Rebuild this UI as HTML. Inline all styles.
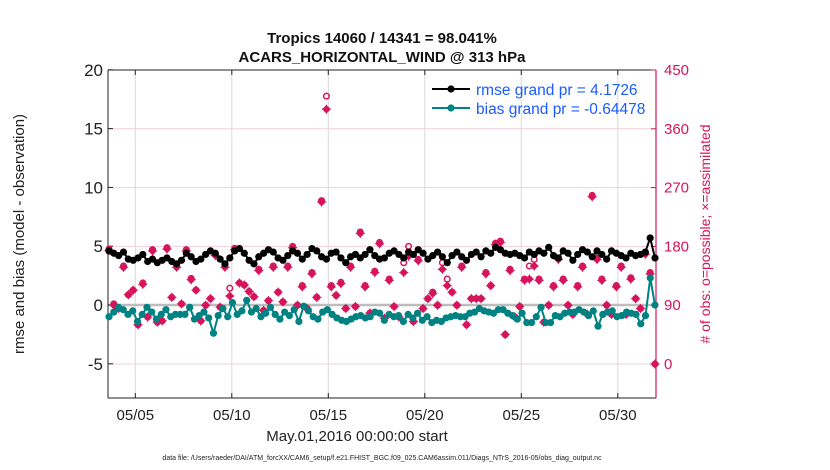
<!DOCTYPE html>
<html><head><meta charset="utf-8"><style>
html,body{margin:0;padding:0;background:#fff;}
svg{display:block;font-family:"Liberation Sans",sans-serif;}
</style></head><body>
<svg id="chart" width="830" height="470" viewBox="0 0 830 470"></svg>
<script>
const rmse=[4.6,4.4,4.2,4.5,3.9,3.8,4.0,4.3,3.7,3.9,3.6,3.8,4.0,3.7,3.5,3.8,4.4,4.1,3.7,3.9,4.3,4.6,4.4,3.9,3.5,4.0,4.6,4.8,4.4,3.8,3.5,4.1,4.4,4.7,4.5,4.0,3.8,4.2,4.6,4.4,3.9,4.3,4.8,4.6,4.1,3.9,4.4,4.5,4.0,3.6,4.1,4.3,4.0,4.3,4.7,4.2,3.9,4.0,4.4,4.6,4.3,4.0,4.5,4.3,4.7,4.4,3.9,4.2,4.5,4.1,3.6,4.2,4.5,4.1,3.8,4.3,4.5,4.1,4.6,4.4,4.9,4.7,4.4,4.3,4.4,4.2,4.0,4.5,4.3,4.6,4.4,4.9,4.2,4.0,4.6,4.4,3.8,4.3,4.7,4.5,4.1,4.6,4.3,3.9,4.6,4.4,4.2,4.0,4.4,4.2,4.3,4.5,5.7,4.0];
const bias=[-1.0,-0.6,-0.2,-0.4,-0.8,-0.5,-1.4,-0.8,-0.2,-0.6,-1.2,-0.8,-0.4,-1.0,-0.8,-0.8,-0.8,-0.2,-1.2,-0.9,-0.6,-1.1,-2.4,-0.9,-0.3,-1.0,0.2,-0.8,-0.5,0.4,-0.6,-0.3,-1.0,-0.7,-0.2,-0.8,-1.2,-0.6,-0.9,-0.4,-1.4,-0.1,-0.5,-1.0,-1.2,-0.6,-0.4,-0.8,-1.1,-1.3,-1.4,-1.2,-1.0,-0.9,-1.1,-1.0,-0.6,-0.7,-1.3,-0.8,-1.0,-0.9,-1.4,-0.8,-1.1,-0.7,-1.3,-1.0,-1.5,-1.3,-1.4,-1.1,-1.0,-0.9,-1.0,-1.0,-0.7,-0.6,-0.3,-0.5,-0.6,-0.7,-0.4,-0.4,-0.7,-0.9,-1.2,-0.7,-1.5,-1.5,-1.0,-0.2,-1.5,-1.5,-0.9,-1.0,-0.7,-0.6,-0.6,-0.4,-0.6,-0.9,-0.5,-1.8,-0.8,-0.6,-0.5,-1.0,-0.9,-0.6,-0.7,-0.8,-1.6,-0.9,2.3,0.0];
const obsPossible=[176,92,85,150,106,113,60,124,72,175,64,66,178,102,150,92,175,131,113,66,90,100,168,87,150,116,177,124,121,111,103,145,82,97,150,110,95,150,180,90,120,85,140,102,250,410,120,105,125,85,150,88,202,120,78,142,186,70,130,88,72,155,180,65,160,85,100,110,90,155,130,110,90,150,60,100,100,100,140,120,185,188,45,145,72,88,130,150,160,130,64,90,120,162,130,90,76,120,150,76,258,162,130,90,76,120,150,76,132,100,85,170,140,0];
const obsAssim=[174,90,85,148,106,113,60,122,72,173,64,66,176,102,148,92,173,129,113,66,90,100,166,87,148,104,175,124,121,111,103,143,82,97,148,110,95,148,178,90,118,85,138,102,248,390,118,105,123,85,148,88,200,118,78,140,184,70,128,88,72,140,165,65,158,85,100,108,90,145,120,110,90,148,60,100,100,100,138,120,183,186,45,143,72,88,128,130,150,128,64,90,118,160,128,90,76,118,148,76,256,160,128,90,76,118,148,76,130,100,85,168,138,0];
const xTickDays=[4,9,14,19,24,29];
const xTickLabels=["05/05","05/10","05/15","05/20","05/25","05/30"];
const yTicks=[-5,0,5,10,15,20];
const y2Ticks=[0,90,180,270,360,450];

const NS="http://www.w3.org/2000/svg";
const svg=document.getElementById('chart');
const L=108,R=656,T=70,B=398;
function yL(v){return 305-(v)*58.8/5;}
function yR(v){return 364-v*58.8/90;}
function xIdx(i,n){return L+1+i*(R-L-2)/(n-1);}
function xDay(d){return 135.3+(d-4)*19.3;}
function mk(tag,attrs,parent){const e=document.createElementNS(NS,tag);for(const k in attrs)e.setAttribute(k,attrs[k]);(parent||svg).appendChild(e);return e;}
function txt(x,y,s,attrs){const e=mk('text',Object.assign({x:x,y:y},attrs));e.textContent=s;return e;}

const grid=mk('g',{});


xTickDays.forEach(d=>{const l=mk('line',{x1:xDay(d),x2:xDay(d),y1:T,y2:B,stroke:'#d8d8d8','stroke-width':1},grid);

});
y2Ticks.forEach(v=>{const l=mk('line',{x1:L,x2:R,y1:yR(v),y2:yR(v),stroke:'#f3cfdc','stroke-width':1},grid);

});
const zl=mk('line',{x1:L,x2:R,y1:yL(0),y2:yL(0),stroke:'#bdbdbd','stroke-width':2.5});



const ax=mk('g',{});


mk('line',{x1:L,x2:L,y1:T,y2:B,stroke:'#222','stroke-width':1},ax);
mk('line',{x1:L,x2:R,y1:T,y2:T,stroke:'#222','stroke-width':1},ax);
mk('line',{x1:L,x2:R,y1:B,y2:B,stroke:'#222','stroke-width':1},ax);
mk('line',{x1:R,x2:R,y1:T,y2:B,stroke:'#d6145c','stroke-width':1.2},ax);
yTicks.forEach(v=>{mk('line',{x1:L,x2:L+5,y1:yL(v),y2:yL(v),stroke:'#222'},ax);
const t=txt(103,yL(v)+6,String(v),{'font-size':17,'text-anchor':'end',fill:'#222'});

});
y2Ticks.forEach(v=>{mk('line',{x1:R-5,x2:R,y1:yR(v),y2:yR(v),stroke:'#d6145c'},ax);
const t=txt(664,yR(v)+5,String(v),{'font-size':15,fill:'#d6145c'});

});
xTickDays.forEach((d,i)=>{mk('line',{x1:xDay(d),x2:xDay(d),y1:B-5,y2:B,stroke:'#222'},ax);mk('line',{x1:xDay(d),x2:xDay(d),y1:T,y2:T+5,stroke:'#222'},ax);
const t=txt(xDay(d),420,xTickLabels[i],{'font-size':15,'text-anchor':'middle',fill:'#222'});

});

const og=mk('g',{});


obsAssim.forEach((v,i)=>{const x=xIdx(i,obsAssim.length),y=yR(v);
const s=mk('path',{d:`M${x} ${y-5}L${x+1.8} ${y-1.8}L${x+5} ${y}L${x+1.8} ${y+1.8}L${x} ${y+5}L${x-1.8} ${y+1.8}L${x-5} ${y}L${x-1.8} ${y-1.8}Z`,fill:'#d6145c'},og);


mk('circle',{cx:x,cy:y,r:3.2,fill:'#d6145c'},og);});
obsPossible.forEach((v,i)=>{const c=mk('circle',{cx:xIdx(i,obsPossible.length),cy:yR(v),r:2.8,fill:'none',stroke:'#d6145c','stroke-width':1.5},og);

});

function series(arr,color,name){const g=mk('g',{});


const pts=arr.map((v,i)=>xIdx(i,arr.length)+','+yL(v)).join(' ');
mk('polyline',{points:pts,fill:'none',stroke:color,'stroke-width':2},g);
arr.forEach((v,i)=>{const c=mk('circle',{cx:xIdx(i,arr.length),cy:yL(v),r:3.6,fill:color},g);

});}
series(bias,'#008282','bias-series');
series(rmse,'#000000','rmse-series');

const lg=mk('g',{});


[['rmse grand pr = 4.1726','#000',89],['bias grand pr = -0.64478','#008282',108]].forEach(e=>{
mk('line',{x1:432,x2:470,y1:e[2],y2:e[2],stroke:e[1],'stroke-width':2},lg);
mk('circle',{cx:451,cy:e[2],r:3.6,fill:e[1]},lg);
const t=txt(476,e[2]+6,e[0],{'font-size':15.5,fill:'#1a5cff'},lg);lg.appendChild(t);

});

let t;
t=txt(382,43,'Tropics 14060 / 14341 = 98.041%',{'font-size':15,'font-weight':'bold','text-anchor':'middle',fill:'#111'});


t=txt(382,62,'ACARS_HORIZONTAL_WIND @ 313 hPa',{'font-size':15,'font-weight':'bold','text-anchor':'middle',fill:'#111'});


t=txt(0,0,'rmse and bias (model - observation)',{'font-size':15,'text-anchor':'middle',fill:'#222',transform:'translate(24,234) rotate(-90)'});


t=txt(0,0,'# of obs: o=possible; \u00d7=assimilated',{'font-size':14,'text-anchor':'middle',fill:'#d6145c',transform:'translate(710,234) rotate(-90)'});


t=txt(357,441,'May.01,2016 00:00:00 start',{'font-size':15,'text-anchor':'middle',fill:'#222'});


t=txt(382,460,'data file: /Users/raeder/DAI/ATM_forcXX/CAM6_setup/f.e21.FHIST_BGC.f09_025.CAM6assim.011/Diags_NTrS_2016-05/obs_diag_output.nc',{'font-size':7,'text-anchor':'middle',fill:'#222'});


</script>
</body></html>
